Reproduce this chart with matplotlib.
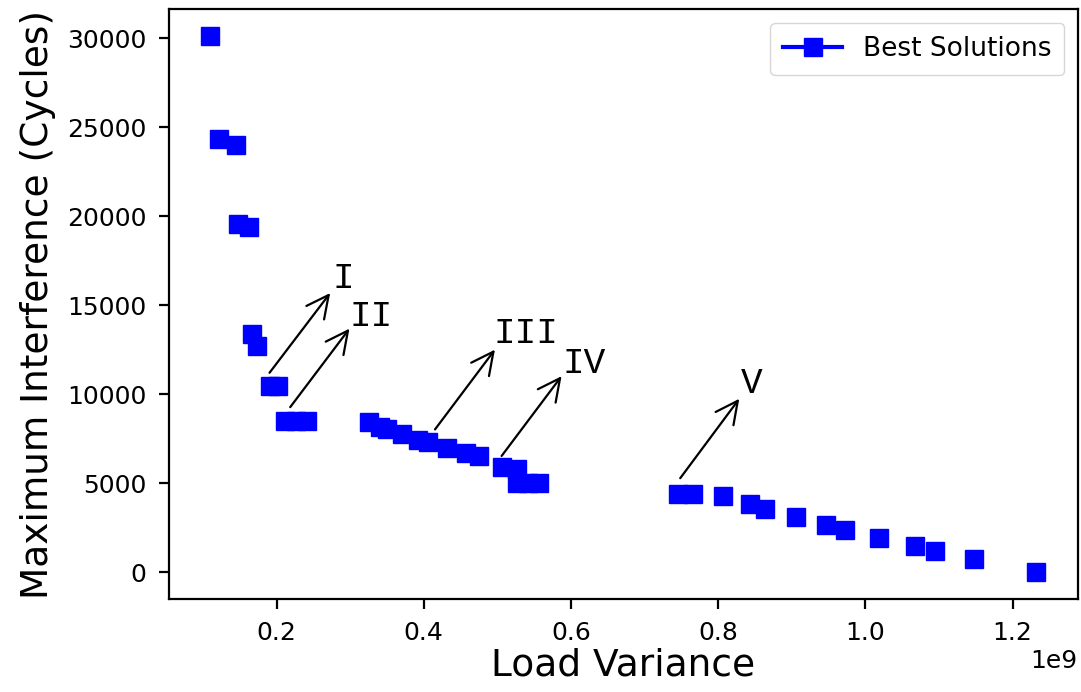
import matplotlib
matplotlib.use("Agg")
import matplotlib.pyplot as plt
from matplotlib.lines import Line2D

# Data (x in units of 1e9)
load_variance = [0.110, 0.122, 0.145, 0.148, 0.163, 0.167, 0.174, 0.191, 0.202,
                 0.212, 0.227, 0.241, 0.325, 0.341, 0.350, 0.370, 0.392, 0.406,
                 0.431, 0.458, 0.475, 0.506, 0.526, 0.527, 0.542, 0.556, 0.746,
                 0.766, 0.806, 0.843, 0.864, 0.905, 0.947, 0.972, 1.018, 1.067,
                 1.095, 1.147, 1.232]
max_interference = [30100, 24310, 23980, 19550, 19370, 13370, 12690, 10480, 10480,
                    8500, 8500, 8500, 8430, 8150, 8050, 7770, 7450, 7320,
                    7000, 6690, 6510, 5900, 5810, 4990, 4990, 4990, 4410,
                    4410, 4270, 3820, 3560, 3090, 2630, 2380, 1920, 1450,
                    1190, 740, 0]

# Annotations: label, arrow tail (x, y), arrow head (x, y)
ann_labels = ["I", "II", "III", "IV", "V"]
ann_tail_x = [0.1905, 0.2186, 0.4153, 0.5058, 0.7484]
ann_tail_y = [11200, 9270, 8020, 6530, 5280]
ann_head_x = [0.2729, 0.2991, 0.4967, 0.5872, 0.8286]
ann_head_y = [15680, 13680, 12500, 11010, 9740]
ann_text_x = [0.2757, 0.2992, 0.4947, 0.5879, 0.8305]
ann_text_y = [15960, 13850, 12880, 11200, 10040]

fig = plt.figure(figsize=(10.81, 6.92), dpi=100)
ax = fig.add_axes([0.1563, 0.1344, 0.8405, 0.8519])

xs = [v * 1e9 for v in load_variance]
ax.plot(xs, max_interference, linestyle="none", marker="s", markersize=13,
        color="blue", markeredgecolor="blue", markeredgewidth=1)

for lab, tx, ty, hx, hy, px, py in zip(ann_labels, ann_tail_x, ann_tail_y,
                                       ann_head_x, ann_head_y, ann_text_x, ann_text_y):
    ax.annotate("", xy=(hx * 1e9, hy), xytext=(tx * 1e9, ty),
                arrowprops=dict(arrowstyle="->", color="black", lw=1.6,
                                mutation_scale=40, shrinkA=0, shrinkB=0))
    ax.text(px * 1e9, py, lab, family="Liberation Mono", fontsize=26,
            ha="left", va="baseline", color="black")

ax.set_xlabel("Load Variance", fontsize=27, labelpad=2)
ax.set_ylabel("Maximum Interference (Cycles)", fontsize=27, labelpad=8)
ax.tick_params(axis="both", labelsize=18, length=7, width=1.6, pad=9)
ax.xaxis.get_offset_text().set_fontsize(18)
for s in ax.spines.values():
    s.set_linewidth(1.6)

handle = Line2D([0], [0], color="blue", lw=3, marker="s", markersize=13)
ax.legend([handle], ["Best Solutions"], loc="upper right", fontsize=19,
          handlelength=2.2, borderpad=0.5)

fig.savefig("out.png", dpi=100)
